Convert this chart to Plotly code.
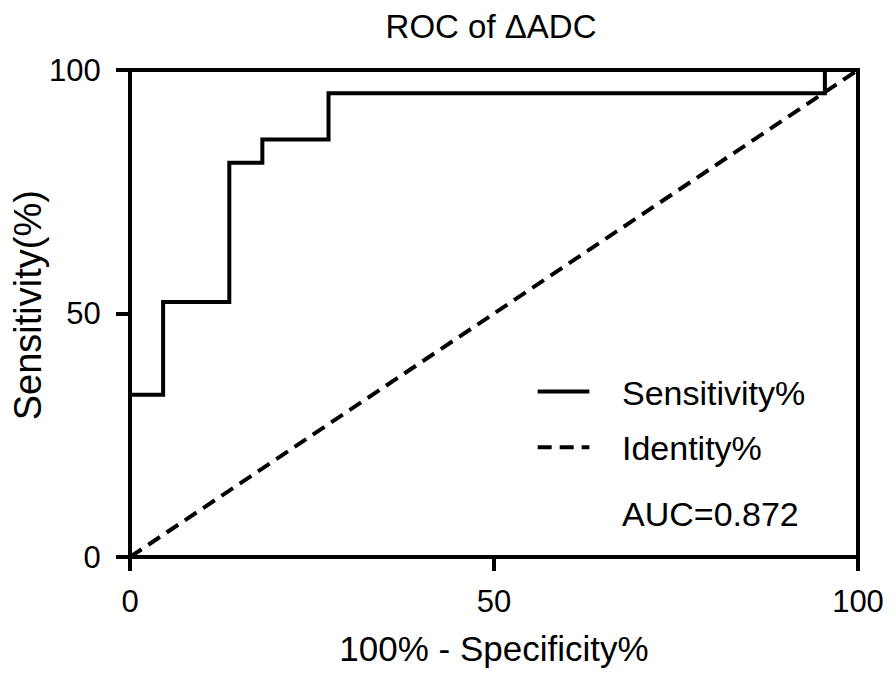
import plotly.graph_objects as go

# ROC data (percent)
fpr = [0, 0, 4.55, 13.64, 18.18, 27.27, 95.45, 100]
tpr = [0, 33.33, 52.38, 80.95, 85.71, 95.24, 100, 100]
identity_x = [0, 100]
identity_y = [0, 100]
legend_labels = ["Sensitivity%", "Identity%"]
auc_text = "AUC=0.872"
x_ticks = [0, 50, 100]
y_ticks = [0, 50, 100]

FONT = "Liberation Sans, Arial, sans-serif"
LW = 4
DASH = "14px,8px"

fig = go.Figure()
fig.add_trace(go.Scatter(x=fpr, y=tpr, mode="lines", line=dict(color="black", width=LW, shape="hv"),
                         name=legend_labels[0], cliponaxis=False, showlegend=False))
fig.add_trace(go.Scatter(x=identity_x, y=identity_y, mode="lines",
                         line=dict(color="black", width=LW, dash=DASH),
                         name=legend_labels[1], cliponaxis=False, showlegend=False))

# frame around the plot area, centred on the axis limits
fig.add_shape(type="rect", xref="x domain", yref="y domain", x0=0, x1=1, y0=0, y1=1,
              line=dict(color="black", width=LW), fillcolor="rgba(0,0,0,0)", layer="above")

# custom legend (samples + labels)
leg_x0, leg_x1, text_x = 0.560, 0.631, 0.6735
leg_rows = [0.340, 0.2254]
text_rows = [0.336, 0.2234, 0.088]
fig.add_shape(type="line", xref="paper", yref="paper", x0=leg_x0, x1=leg_x1, y0=leg_rows[0], y1=leg_rows[0],
              line=dict(color="black", width=LW))
fig.add_shape(type="line", xref="paper", yref="paper", x0=leg_x0, x1=leg_x1, y0=leg_rows[1], y1=leg_rows[1],
              line=dict(color="black", width=LW, dash=DASH))
for lab, yy in zip(legend_labels + [auc_text], text_rows):
    fig.add_annotation(x=text_x, y=yy, xref="paper", yref="paper", text=lab, showarrow=False,
                       xanchor="left", yanchor="middle", font=dict(family=FONT, size=34, color="black"))

# y-axis title
fig.add_annotation(x=-0.1407, y=0.516, xref="paper", yref="paper", text="Sensitivity(%)", showarrow=False,
                   textangle=-90, xanchor="center", yanchor="middle",
                   font=dict(family=FONT, size=38, color="black"))

axis_common = dict(range=[0, 100], ticks="outside", ticklen=13, tickwidth=LW, tickcolor="black",
                   showline=False, showgrid=False, zeroline=False,
                   tickfont=dict(family=FONT, size=31, color="black"))

fig.update_layout(
    width=888, height=666,
    margin=dict(l=122, r=34, t=62, b=116),
    paper_bgcolor="white", plot_bgcolor="white",
    title=dict(text="ROC of ΔADC", xref="container", x=0.544, xanchor="center",
               yref="container", y=0.99, yanchor="top",
               font=dict(family=FONT, size=33, color="black")),
    font=dict(family=FONT, color="black"),
    showlegend=False,
    xaxis=dict(tickvals=x_ticks, ticklabelstandoff=4,
               title=dict(text="100% - Specificity%", font=dict(family=FONT, size=35), standoff=18),
               **axis_common),
    yaxis=dict(tickvals=y_ticks, ticklabelstandoff=9, **axis_common),
)

fig.write_html("out.html")
